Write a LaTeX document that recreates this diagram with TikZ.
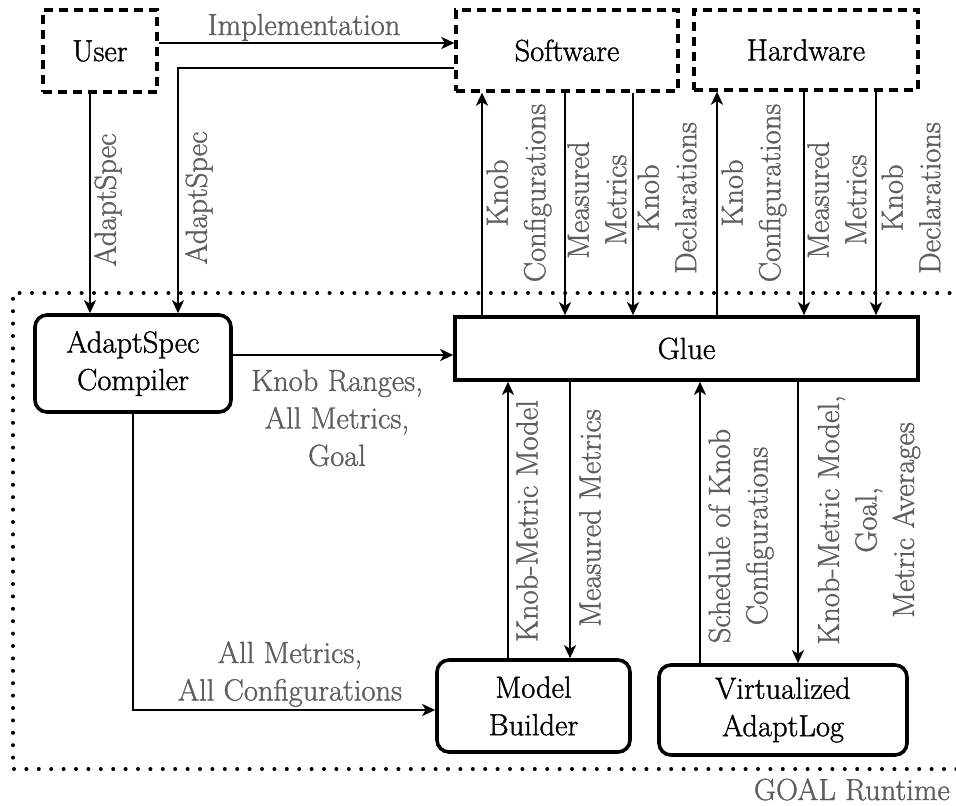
\documentclass[tikz,border=0pt]{standalone}
\usepackage{fontspec}
\newfontfamily\lmheavy{Latin Modern Roman}[FakeBold=1.2]
\usetikzlibrary{arrows.meta}
\definecolor{lblgray}{HTML}{5E5E5E}
\begin{document}
\begin{tikzpicture}[x=1pt,y=-1pt,
  every node/.style={font=\lmheavy\fontsize{30.5}{37.5}\selectfont, inner sep=0pt},
  dbox/.style={draw, line width=3.3pt, dash pattern=on 9pt off 6pt},
  sbox/.style={draw, line width=3.6pt},
  rbox/.style={draw, line width=3.6pt, rounded corners=12pt, align=center},
  arr/.style={line width=2.6pt, -{Stealth[length=13pt,width=12pt,inset=3.5pt]}},
  lbl/.style={text=lblgray, align=center},
  vlbl/.style={lbl, rotate=90},
  runtime/.style={line width=4pt, dash pattern=on 0pt off 12.4pt, line cap=round}]
\useasboundingbox (0,0) rectangle (956,806);

% runtime frame
\draw[runtime] (962,293) -- (13,293) -- (13,769) -- (962,769);
\node[lbl, anchor=base east] (rt) at (950,800) {GOAL Runtime};

% boxes
\node[dbox, minimum width=114pt, minimum height=82pt] (user) at (100,51) {User};
\node[dbox, minimum width=222pt, minimum height=81pt] (sw) at (567,50.5) {Software};
\node[dbox, minimum width=224pt, minimum height=80pt] (hw) at (806,50) {Hardware};
\node[rbox, minimum width=196pt, minimum height=97pt] (comp) at (133,363.5) {AdaptSpec\\Compiler};
\node[sbox, minimum width=463pt, minimum height=63pt] (glue) at (686.5,348.5) {Glue};
\node[rbox, minimum width=193pt, minimum height=92pt] (mb) at (533.5,706) {Model\\Builder};
\node[rbox, minimum width=248pt, minimum height=90pt] (va) at (783,710) {Virtualized\\AdaptLog};

% top connectors
\draw[arr] (user.east |- 0,43) -- (sw.west |- 0,43);
\node[lbl, anchor=base] (impl) at (304,35) {Implementation};
\draw[arr] (sw.west |- 0,68) -| (178,0 |- comp.north);
\node[vlbl] (as2) at (199,198) {AdaptSpec};
\draw[arr] (user.south -| 90,0) -- (90,0 |- comp.north);
\node[vlbl] (as1) at (108,200) {AdaptSpec};

% compiler outputs
\draw[arr] (comp.east |- 0,355) -- (glue.west |- 0,355);
\node[lbl] (kr) at (337,418) {Knob Ranges,\\All Metrics,\\Goal};
\draw[arr] (comp.south) |- (mb.west |- 0,710);
\node[lbl] (amc) at (290,674) {All Metrics,\\All Configurations};

% glue <-> software / hardware
\draw[arr] (glue.north -| 482,0) -- (sw.south -| 482,0);
\node[vlbl] (l1) at (519,193) {Knob\\Configurations};
\draw[arr] (sw.south -| 565,0) -- (glue.north -| 565,0);
\node[vlbl] (l2) at (597,200) {Measured\\Metrics};
\draw[arr] (sw.south -| 633,0) -- (glue.north -| 633,0);
\node[vlbl] (l3) at (667,198) {Knob\\Declarations};
\draw[arr] (glue.north -| 717,0) -- (hw.south -| 717,0);
\node[vlbl] (l4) at (754,193) {Knob\\Configurations};
\draw[arr] (hw.south -| 804,0) -- (glue.north -| 804,0);
\node[vlbl] (l5) at (837,200) {Measured\\Metrics};
\draw[arr] (hw.south -| 876,0) -- (glue.north -| 876,0);
\node[vlbl] (l6) at (911,198) {Knob\\Declarations};

% glue <-> model builder / adaptlog
\draw[arr] (mb.north -| 508,0) -- (glue.south -| 508,0);
\node[vlbl] (b1) at (527,521) {Knob-Metric Model};
\draw[arr] (glue.south -| 570,0) -- (mb.north -| 570,0);
\node[vlbl] (b2) at (590,518) {Measured Metrics};
\draw[arr] (va.north -| 700,0) -- (glue.south -| 700,0);
\node[vlbl] (b3) at (741,536) {Schedule of Knob\\Configurations};
\draw[arr] (glue.south -| 798,0) -- (va.north -| 798,0);
\node[vlbl] (b4) at (869,520) {Knob-Metric Model,\\Goal,\\Metric Averages};
\end{tikzpicture}
\end{document}
